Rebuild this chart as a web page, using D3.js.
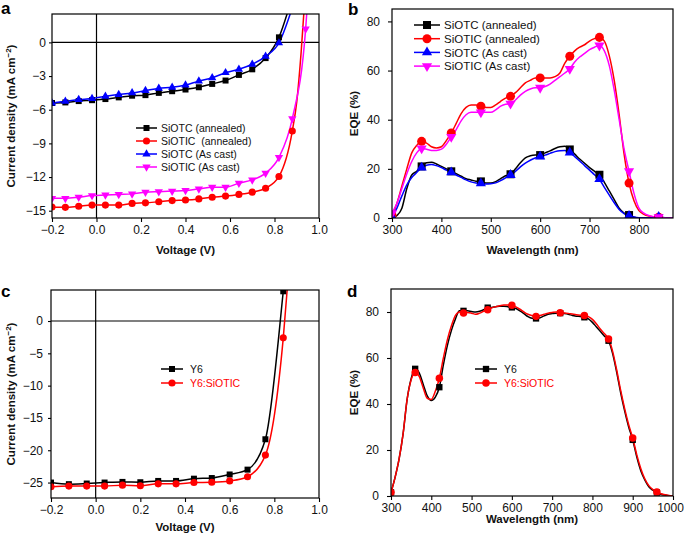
<!DOCTYPE html>
<html><head><meta charset="utf-8">
<script src="https://cdnjs.cloudflare.com/ajax/libs/d3/7.8.5/d3.min.js"></script>
<style>body{margin:0;background:#fff}svg{display:block}text{font-family:"Liberation Sans",Arial,Helvetica,sans-serif}</style>
</head><body><svg id="c" width="685" height="535"></svg>
<script>
// ---------- Panel a: J-V ----------
const aVoltage = [-0.2,-0.14,-0.08,-0.02,0.04,0.10,0.16,0.22,0.28,0.34,0.40,0.46,0.52,0.58,0.64,0.70,0.76,0.82,0.88,0.94];
const aSiOTCAnnealed = [-5.4,-5.35,-5.23,-5.15,-5.05,-4.9,-4.75,-4.7,-4.5,-4.35,-4.2,-4.0,-3.7,-3.4,-2.9,-2.4,-1.4,0.45];
const aSiOTICAnnealed = [-14.67,-14.7,-14.6,-14.5,-14.5,-14.5,-14.35,-14.3,-14.2,-14.1,-14.05,-13.95,-13.8,-13.7,-13.55,-13.35,-13.0,-11.95,-7.9];
const aSiOTCAsCast = [-5.4,-5.25,-5.1,-5.0,-4.8,-4.65,-4.5,-4.3,-4.1,-4.0,-3.8,-3.45,-3.15,-2.7,-2.4,-1.95,-1.25,-0.05];
const aSiOTICAsCast = [-13.9,-13.9,-13.8,-13.65,-13.6,-13.55,-13.5,-13.35,-13.3,-13.25,-13.2,-13.05,-12.9,-12.9,-12.55,-12.25,-11.65,-10.25,-6.8,1.2];
// line-only points past the last marker [V, J]
const aTailSiOTCAnnealed = [[0.87,3.4]];
const aTailSiOTICAnnealed = [[0.90,-5.3],[0.92,-0.8],[0.935,3.5]];
const aTailSiOTCAsCast = [[0.88,3.1]];
const aTailSiOTICAsCast = [[0.95,4.0]];
const aXTicks = [-0.2,0.0,0.2,0.4,0.6,0.8,1.0];
const aYTicks = [0,-3,-6,-9,-12,-15];

// ---------- Panel b: EQE ----------
const bWavelength = [300,310,320,330,340,350,360,370,380,390,400,410,420,430,440,450,460,470,480,490,500,510,520,530,540,550,560,570,580,590,600,610,620,630,640,650,660,670,680,690,700,710,720,730,740,750,760,770,780,790,800,810,820,830,840,850,860,870];
const bSiOTCAnnealed = [0,1,4,12,17.5,19,21,22.5,22.7,22,21,20,19,18,17,16,15.5,15,14.9,14.2,14.2,14.8,16,17.2,17.8,20,22.5,24.5,25.3,25.6,25.6,26.5,27.3,28.3,29,29.2,27.9,26,24,22.3,20.5,19,17.6,14.5,11,7.5,4,2,1.2,0.3,0,0,0,0,0,0,0,0];
const bSiOTICAnnealed = [1,6,13,20,26.5,29.5,31.2,30.5,29,28.5,29,31.5,34.6,38.5,42.5,45,46,46,45.5,45,45,46,47.5,48.8,49.5,51,53,55,56,57,57,57,57,57.5,59,63,65.8,68,69.5,70.5,72,73,73.5,72,66,56,42,26,14.2,7,3,1.5,0.8,0.5,0.3,0.1,0,0];
const bSiOTCAsCast = [0.5,4,9,13.5,16.5,18.5,20.5,21.5,21.8,21.3,20.5,19.5,18.6,17.5,16.5,15.5,14.7,14.2,14.1,13.8,13.9,14.3,15.2,16.3,17.5,19,20.8,22.3,23.5,24.4,25,25.6,26.3,27,27.4,27.5,26.6,25,23.2,21.3,19.5,17.6,15.8,12.5,9.3,6.2,3.5,1.8,0.9,0.4,0.1,0,0,0.1,0.5,0.2,0,0];
const bSiOTICAsCast = [2,6,12,18,23,26.5,28.3,28,27.5,27.5,28,30,33,36,39.5,42,43,43,43,43,43,44,45.5,46.3,46.5,48,50,51.5,52.5,53,53,53.5,54.5,56,57.5,59,60.7,63.5,65.5,67,68.5,69.5,70.2,68,62,52,40,28,19,10,4,2,1,0.5,0.3,0.1,0,0];
const bXTicks = [300,400,500,600,700,800];
const bYTicks = [0,20,40,60,80];

// ---------- Panel c: J-V ----------
const cVoltage = [-0.2,-0.12,-0.04,0.04,0.12,0.2,0.28,0.36,0.44,0.52,0.6,0.68,0.76,0.84];
const cY6 = [-25.0,-25.25,-25.15,-25.0,-24.9,-24.95,-24.75,-24.75,-24.4,-24.3,-23.75,-23.0,-18.3,4.6];
const cY6SiOTIC = [-25.65,-25.55,-25.55,-25.55,-25.4,-25.5,-25.2,-25.2,-25.0,-24.95,-24.75,-24.1,-20.75,-2.6];
const cTailY6 = [[0.85,8]];
const cTailY6SiOTIC = [[0.865,8]];
const cXTicks = [-0.2,0.0,0.2,0.4,0.6,0.8,1.0];
const cYTicks = [0,-5,-10,-15,-20,-25];

// ---------- Panel d: EQE ----------
const dWavelength = [300,310,320,330,340,350,360,370,380,390,400,410,420,430,440,450,460,470,480,490,500,510,520,530,540,550,560,570,580,590,600,610,620,630,640,650,660,670,680,690,700,710,720,730,740,750,760,770,780,790,800,810,820,830,840,850,860,870,880,890,900,910,920,930,940,950,960,970,980,990,1000];
const dY6 = [1.6,8,16,27,42,51,55.3,53.5,48.5,43.5,41.5,43,47.3,57,65.5,72,77,80.5,80.5,80.5,80.2,80,80.3,81,81.9,82,82.3,82.5,82.5,82.3,82,81.5,80.5,79.3,78,77.3,77.2,77.5,78.3,79,79.3,79.5,79.5,79.3,79,78.5,78.2,78,77.7,77,75.5,73.5,71.5,69.5,67.5,62,54,45,37,30,24.4,17,11,7,4,2.5,1.5,0.8,0.4,0.1,0];
const dY6SiOTIC = [1.5,8,16,27,42,50.5,53.7,52,47,42.5,42,45.5,51.2,60,68,74,78.5,80,79.6,79.8,79.5,79,79.5,80.3,81,81.8,82.3,82.7,83,83,82.9,82.2,81.2,80,79,78.5,78.1,78.5,79,79.5,79.8,80,79.7,79.6,79.4,79.1,78.8,78.6,78.5,78,76.8,74.8,72.5,70.5,68.3,63,55,46,38,31,25.2,18,12,7.5,4.5,2.8,1.7,1,0.5,0.2,0];
const dXTicks = [300,400,500,600,700,800,900,1000];
const dYTicks = [0,20,40,60,80];

const svg = d3.select("#c");
const mk = {
  square: d3.symbol().type(d3.symbolSquare),
  circle: d3.symbol().type(d3.symbolCircle),
  tri: d3.symbol().type(d3.symbolTriangle),
  tridown: d3.symbol().type(d3.symbolTriangle)
};
function sym(shape, size){ return mk[shape].size(size)(); }

let clipId = 0;
function panel(cfg){
  const g = svg.append("g");
  const x = d3.scaleLinear().domain(cfg.xd).range([cfg.l, cfg.r]);
  const y = d3.scaleLinear().domain(cfg.yd).range([cfg.b, cfg.t]);
  const id = "clip" + (clipId++);
  svg.append("clipPath").attr("id", id).append("rect")
    .attr("x", cfg.l).attr("y", cfg.t).attr("width", cfg.r - cfg.l).attr("height", cfg.b - cfg.t);

  // axes
  const xa = d3.axisBottom(x).tickValues(cfg.xt).tickFormat(cfg.xf).tickSizeOuter(0).tickSizeInner(4).tickPadding(3);
  const ya = d3.axisLeft(y).tickValues(cfg.yt).tickFormat(cfg.yf).tickSizeOuter(0).tickSizeInner(cfg.ytick || 3).tickPadding(cfg.ypad || 3);
  const gx = g.append("g").attr("transform", `translate(0,${cfg.b})`).call(xa);
  const gy = g.append("g").attr("transform", `translate(${cfg.l},0)`).call(ya);
  [gx, gy].forEach(a => {
    a.select(".domain").remove();
    a.selectAll("line").attr("stroke", "#000").attr("stroke-width", 1.1);
    a.selectAll("text").attr("font-size", 12).attr("fill", "#111");
  });
  if (cfg.lastDx) gx.selectAll(".tick:last-of-type text").attr("dx", cfg.lastDx);

  if (cfg.zero){
    g.append("line").attr("x1", cfg.l).attr("x2", cfg.r).attr("y1", y(0)).attr("y2", y(0)).attr("stroke", "#000").attr("stroke-width", 1.2);
    g.append("line").attr("x1", x(0)).attr("x2", x(0)).attr("y1", cfg.t).attr("y2", cfg.b).attr("stroke", "#000").attr("stroke-width", 1.2);
  }

  const plot = g.append("g").attr("clip-path", `url(#${id})`);
  const line = d3.line().x(d => x(d[0])).y(d => y(d[1])).curve(d3.curveMonotoneX);
  cfg.series.forEach(s => {
    plot.append("path").attr("d", line(s.line)).attr("fill", "none").attr("stroke", s.color).attr("stroke-width", 1.5);
  });
  cfg.series.forEach(s => {
    plot.selectAll(null).data(s.pts).enter().append("path")
      .attr("d", sym(s.shape, s.size))
      .attr("transform", d => `translate(${x(d[0])},${y(d[1])})` + (s.shape === "tridown" ? " rotate(180)" : ""))
      .attr("fill", s.color);
  });

  // frame
  g.append("rect").attr("x", cfg.l).attr("y", cfg.t).attr("width", cfg.r - cfg.l).attr("height", cfg.b - cfg.t)
    .attr("fill", "none").attr("stroke", "#000").attr("stroke-width", 1.2);

  // legend
  cfg.series.forEach((s, i) => {
    const ly = cfg.leg.y + i * cfg.leg.dy;
    g.append("line").attr("x1", cfg.leg.x1).attr("x2", cfg.leg.x2).attr("y1", ly).attr("y2", ly).attr("stroke", s.color).attr("stroke-width", 1.5);
    g.append("path").attr("d", sym(s.shape, s.size))
      .attr("transform", `translate(${(cfg.leg.x1 + cfg.leg.x2) / 2},${ly})` + (s.shape === "tridown" ? " rotate(180)" : ""))
      .attr("fill", s.color);
    g.append("text").attr("x", cfg.leg.tx).attr("y", ly).attr("dy", "0.36em")
      .attr("font-size", cfg.leg.fs).attr("fill", s.textColor || "#111").attr("xml:space", "preserve").text(s.name);
  });

  // titles
  g.append("text").attr("x", (cfg.l + cfg.r) / 2).attr("y", cfg.xty).attr("text-anchor", "middle")
    .attr("font-size", 11.5).attr("font-weight", "bold").attr("fill", "#111").text(cfg.xtitle);
  const yt = g.append("text").attr("transform", `translate(${cfg.ytx},${(cfg.t + cfg.b) / 2}) rotate(-90)`)
    .attr("text-anchor", "middle").attr("font-size", 11.5).attr("font-weight", "bold").attr("fill", "#111");
  if (cfg.jv){
    yt.append("tspan").text("Current density (mA cm");
    yt.append("tspan").attr("dy", -4).attr("font-size", 8).text("\u22122");
    yt.append("tspan").attr("dy", 4).text(")");
  } else {
    yt.text(cfg.ytitle);
  }
  g.append("text").attr("x", cfg.lab[0]).attr("y", cfg.lab[1]).attr("font-size", 17).attr("font-weight", "bold").attr("fill", "#000").text(cfg.label);
}

function zip(xs, ys){ return ys.map((v, i) => [xs[i], v]); }
function every60(xs, ys){ return zip(xs, ys).filter(d => (d[0] - 300) % 60 === 0); }
const fmt1 = d3.format(".1f");
const fmt0 = d3.format("d");

panel({
  l: 52, r: 319, t: 14, b: 218, xd: [-0.2, 1.0], yd: [-15.65, 2.53],
  xt: aXTicks, yt: aYTicks, xf: fmt1, yf: fmt0, zero: true, jv: true,
  xtitle: "Voltage (V)", xty: 254, ytx: 15, label: "a", lab: [1, 14],
  leg: {x1: 136, x2: 157, tx: 161, y: 128, dy: 13, fs: 10.5},
  series: [
    {name: "SiOTC (annealed)", color: "#000", shape: "square", size: 36, pts: zip(aVoltage, aSiOTCAnnealed), line: zip(aVoltage, aSiOTCAnnealed).concat(aTailSiOTCAnnealed)},
    {name: "SiOTIC  (annealed)", color: "#ff0000", shape: "circle", size: 40, pts: zip(aVoltage, aSiOTICAnnealed), line: zip(aVoltage, aSiOTICAnnealed).concat(aTailSiOTICAnnealed)},
    {name: "SiOTC (As cast)", color: "#0000ff", shape: "tri", size: 30, pts: zip(aVoltage, aSiOTCAsCast), line: zip(aVoltage, aSiOTCAsCast).concat(aTailSiOTCAsCast)},
    {name: "SiOTIC (As cast)", color: "#ff00ff", shape: "tridown", size: 30, pts: zip(aVoltage, aSiOTICAsCast), line: zip(aVoltage, aSiOTICAsCast).concat(aTailSiOTICAsCast)}
  ]
});

panel({
  l: 392, r: 673, t: 9, b: 218, xd: [300, 869], yd: [0, 85.05],
  xt: bXTicks, yt: bYTicks, xf: fmt0, yf: fmt0, zero: false, ytick: 4, ypad: 8,
  xtitle: "Wavelength (nm)", ytitle: "EQE (%)", xty: 254, ytx: 358, label: "b", lab: [348, 15],
  leg: {x1: 414, x2: 440, tx: 444, y: 25, dy: 13.7, fs: 11.5},
  series: [
    {name: "SiOTC (annealed)", color: "#000", shape: "square", size: 64, pts: every60(bWavelength, bSiOTCAnnealed), line: zip(bWavelength, bSiOTCAnnealed)},
    {name: "SiOTIC (annealed)", color: "#ff0000", shape: "circle", size: 64, pts: every60(bWavelength, bSiOTICAnnealed), line: zip(bWavelength, bSiOTICAnnealed)},
    {name: "SiOTC (As cast)", color: "#0000ff", shape: "tri", size: 45, pts: every60(bWavelength, bSiOTCAsCast), line: zip(bWavelength, bSiOTCAsCast)},
    {name: "SiOTIC (As cast)", color: "#ff00ff", shape: "tridown", size: 45, pts: every60(bWavelength, bSiOTICAsCast), line: zip(bWavelength, bSiOTICAsCast)}
  ]
});

panel({
  l: 51, r: 319, t: 290, b: 498, xd: [-0.2, 1.0], yd: [-27.39, 4.8],
  xt: cXTicks, yt: cYTicks, xf: fmt1, yf: fmt0, zero: true, jv: true, ypad: 5,
  xtitle: "Voltage (V)", xty: 531, ytx: 15, label: "c", lab: [1, 297],
  leg: {x1: 161, x2: 183, tx: 190, y: 369, dy: 14, fs: 10.5},
  series: [
    {name: "Y6", color: "#000", shape: "square", size: 36, pts: zip(cVoltage, cY6), line: zip(cVoltage, cY6).concat(cTailY6)},
    {name: "Y6:SiOTIC", color: "#ff0000", textColor: "#ff0000", shape: "circle", size: 40, pts: zip(cVoltage, cY6SiOTIC), line: zip(cVoltage, cY6SiOTIC).concat(cTailY6SiOTIC)}
  ]
});

panel({
  l: 391, r: 673, t: 289, b: 496, xd: [300, 1000], yd: [0, 90],
  xt: dXTicks, yt: dYTicks, xf: fmt0, yf: fmt0, zero: false, ytick: 4, ypad: 8, lastDx: -3,
  xtitle: "Wavelength (nm)", ytitle: "EQE (%)", xty: 523, ytx: 358, label: "d", lab: [347, 297],
  leg: {x1: 475, x2: 497, tx: 504, y: 369, dy: 14, fs: 10.5},
  series: [
    {name: "Y6", color: "#000", shape: "square", size: 40, pts: every60(dWavelength, dY6), line: zip(dWavelength, dY6)},
    {name: "Y6:SiOTIC", color: "#ff0000", textColor: "#ff0000", shape: "circle", size: 44, pts: every60(dWavelength, dY6SiOTIC), line: zip(dWavelength, dY6SiOTIC)}
  ]
});
</script></body></html>
